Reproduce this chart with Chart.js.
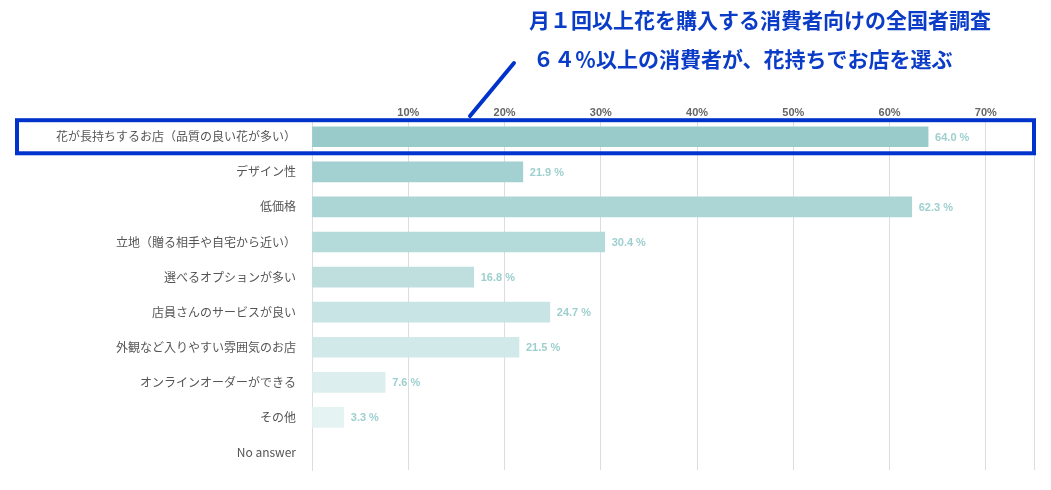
<!DOCTYPE html>
<html><head><meta charset="utf-8">
<script src="https://cdn.jsdelivr.net/npm/chart.js@4"></script>
<style>html,body{margin:0;padding:0;background:#fff}#w{width:1051px;height:490px}</style>
</head><body><div id="w"><canvas id="c"></canvas></div>
<script>
const categories = ["花が長持ちするお店（品質の良い花が多い）","デザイン性","低価格","立地（贈る相手や自宅から近い）","選べるオプションが多い","店員さんのサービスが良い","外観など入りやすい雰囲気のお店","オンラインオーダーができる","その他","No answer"];
const values = [64.0,21.9,62.3,30.4,16.8,24.7,21.5,7.6,3.3,null];
const barColors = ["#99cbcb","#a3d0d0","#acd5d5","#b5dada","#bfdfdf","#c8e4e4","#d2e9e9","#dceeee","#e6f3f3","#eef7f7"];
const titleLines = ["月１回以上花を購入する消費者向けの全国者調査","６４％以上の消費者が、花持ちでお店を選ぶ"];
const FONT = "'Noto Sans CJK JP','Noto Sans',sans-serif";
const NUMFONT = "'Liberation Sans',Arial,sans-serif";

const deco = {
  id:'deco',
  afterDatasetsDraw(chart){
    const ctx=chart.ctx, y=chart.scales.y, meta=chart.getDatasetMeta(0);
    ctx.save();
    ctx.font="bold 11px "+NUMFONT; ctx.fillStyle="#9dcfcf"; ctx.textBaseline="middle";
    meta.data.forEach((b,i)=>{ if(values[i]==null) return; ctx.fillText(values[i].toFixed(1)+" %", b.x+7, b.y+1); });
    const h=y.getPixelForValue(1)-y.getPixelForValue(0);
    const cy=y.getPixelForValue(0);
    ctx.strokeStyle="#0033cc"; ctx.lineWidth=4;
    ctx.strokeRect(17, cy-h/2+1, chart.width-17-17, h-2);
    ctx.lineCap="round";
    ctx.beginPath(); ctx.moveTo(470,116); ctx.lineTo(514,63); ctx.stroke();
    ctx.fillStyle="#0a3cc8"; ctx.font="bold 21px "+FONT; ctx.textBaseline="alphabetic";
    ctx.fillText(titleLines[0],529,28);
    ctx.fillText(titleLines[1],533,67);
    ctx.restore();
  }
};

new Chart(document.getElementById('c'),{
  type:'bar',
  data:{labels:categories,datasets:[{data:values,backgroundColor:barColors,barThickness:20}]},
  options:{
    indexAxis:'y',responsive:true,maintainAspectRatio:false,animation:false,
    layout:{padding:{top:106,bottom:20,right:17,left:10}},
    plugins:{legend:{display:false},tooltip:{enabled:false}},
    scales:{
      x:{position:'top',min:0,max:75,
        ticks:{stepSize:10,font:{family:NUMFONT,size:11,weight:'bold'},color:'#666',padding:0,
          callback:v=>(v>0&&v<=70)?v+'%':''},
        grid:{color:'#dddddd',drawTicks:false},border:{display:false}},
      y:{afterFit:s=>{s.width=302;},
        ticks:{font:{family:FONT,size:12},color:'#555',padding:8},
        grid:{display:false},border:{color:'#dddddd'}}
    }
  },
  plugins:[deco]
});
</script></body></html>
